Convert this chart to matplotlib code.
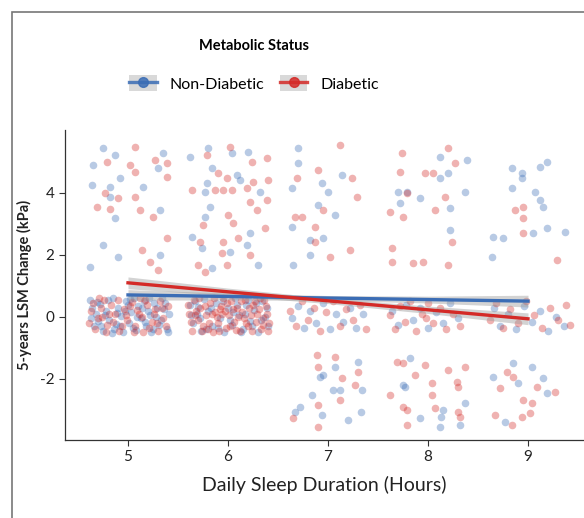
import matplotlib
matplotlib.use('Agg')
import matplotlib.pyplot as plt
from matplotlib.lines import Line2D
from matplotlib.patches import Rectangle
import numpy as np

plt.rcParams['font.family'] = ['Lato', 'DejaVu Sans']

# --- data (jittered sleep hours, 5-year LSM change) ---
nd_x = [4.75, 4.87, 4.65, 4.92, 4.64, 4.82, 4.82, 5.15, 5.35, 5.30, 5.32, 4.87,
        4.75, 4.90, 4.62, 5.32,
        5.62, 5.80, 6.04, 6.20, 5.84, 6.09, 6.12, 6.32, 5.79, 5.82, 5.77, 5.64, 5.74,
        6.22, 6.19, 6.02, 5.84, 6.30, 5.77,
        6.70, 6.70, 7.14, 6.64, 6.94, 7.00, 6.90, 7.07, 6.64, 6.82, 6.95, 6.82, 6.65,
        7.70, 7.72, 8.12, 8.39, 8.12, 8.20, 8.37, 7.79, 7.92, 8.22, 8.22,
        8.84, 8.94, 8.94, 9.12, 9.19, 8.84, 9.07, 9.12, 9.15, 8.65, 8.75, 9.05, 9.19,
        9.37, 8.64,
        7.30, 6.95, 7.07, 6.92, 7.05, 7.12, 7.34, 6.84, 6.72, 6.67, 7.33, 6.94, 7.20,
        7.82, 7.75, 7.77, 8.37, 7.92, 8.13, 8.12, 8.32, 8.15,
        8.85, 9.04, 8.65, 9.15, 8.90, 9.19, 8.77,
        4.62, 4.68, 4.66, 4.72, 4.75, 4.78, 4.81, 4.85, 4.86, 4.90, 4.93, 4.95, 4.98,
        5.01, 5.03, 5.06, 5.08, 5.10, 5.13, 5.16, 5.18, 5.20, 5.23, 5.26, 5.28, 5.31,
        5.34, 5.36, 5.39, 5.41, 4.70, 4.88, 5.00, 5.22, 4.64,
        4.63, 4.69, 4.73, 4.77, 4.80, 4.84, 4.89, 4.92, 4.97, 5.02, 5.05, 5.09, 5.14,
        5.17, 5.21, 5.25, 5.29, 5.33, 5.37, 5.40,
        5.62, 5.65, 5.69, 5.73, 5.76, 5.80, 5.84, 5.88, 5.92, 5.96, 6.00, 6.04, 6.07,
        6.11, 6.15, 6.18, 6.22, 6.26, 6.30, 6.34, 6.37, 6.40, 5.70, 6.05, 6.20,
        5.63, 5.67, 5.72, 5.78, 5.83, 5.90, 5.95, 6.02, 6.09, 6.13, 6.17, 6.24, 6.28,
        6.33, 6.39,
        6.64, 6.70, 6.76, 6.82, 6.88, 6.95, 7.02, 7.08, 7.15, 7.22, 7.28, 7.35,
        7.64, 7.70, 7.78, 7.85, 7.92, 8.00, 8.08, 8.15, 8.22, 8.30,
        8.66, 8.72, 8.80, 8.88, 8.96, 9.04, 9.12, 9.20, 9.28, 9.36]
nd_y = [5.45, 5.23, 4.90, 4.48, 4.26, 4.20, 3.87, 4.20, 5.29, 4.80, 3.45, 3.19,
        2.32, 1.94, 1.61, 2.00,
        5.16, 5.45, 5.29, 5.32, 4.80, 4.58, 4.42, 4.03, 4.32, 3.55, 3.23, 2.58, 2.23,
        2.71, 2.32, 2.10, 1.58, 1.68, 4.03,
        5.45, 4.97, 4.58, 4.16, 4.32, 4.03, 3.61, 3.29, 2.90, 2.48, 2.55, 2.00, 1.68,
        4.03, 3.68, 5.16, 5.06, 4.48, 4.65, 4.03, 4.03, 3.84, 3.52, 2.81,
        4.81, 4.65, 4.48, 4.84, 5.00, 4.16, 4.03, 3.77, 3.55, 2.58, 2.55, 2.71, 2.87,
        2.74, 1.94,
        -1.45, -1.87, -1.61, -1.94, -2.35, -2.35, -2.35, -2.52, -2.90, -3.06, -3.06, -3.16, -3.32,
        -1.32, -2.19, -2.26, -2.77, -3.26, -3.23, -3.55, -3.48, -3.00,
        -1.48, -1.61, -1.94, -1.97, -2.13, -2.45, -3.39,
        0.55, 0.10, -0.30, 0.42, -0.45, 0.20, -0.10, 0.60, -0.38, 0.30, 0.02, -0.50, 0.50,
        -0.20, 0.15, 0.62, -0.42, 0.35, -0.05, 0.52, -0.30, 0.20, -0.48, 0.45, 0.00, -0.25,
        0.60, 0.25, -0.40, 0.10, -0.12, -0.22, 0.40, 0.05, 0.30,
        -0.05, 0.48, -0.28, 0.05, 0.55, -0.52, 0.12, -0.30, 0.20, 0.58, -0.35, 0.00, 0.30,
        -0.15, 0.60, -0.38, 0.30, -0.10, 0.45, -0.50,
        0.40, -0.20, 0.10, -0.45, 0.58, 0.20, -0.30, 0.45, -0.05, -0.50, 0.30, -0.25, 0.60,
        0.05, -0.40, 0.40, -0.12, 0.22, -0.48, 0.50, 0.00, -0.30, 0.32, 0.15, 0.55,
        0.05, 0.50, -0.05, -0.40, 0.30, -0.35, 0.50, -0.10, 0.40, -0.50, 0.10, -0.30, 0.45,
        -0.10, 0.30,
        -0.05, 0.35, -0.35, 0.20, -0.20, 0.45, -0.40, 0.10, -0.15, 0.30, -0.35, 0.10,
        0.20, -0.25, 0.40, -0.10, 0.30, -0.35, 0.15, -0.20, 0.45, -0.05,
        0.30, -0.30, 0.10, -0.40, 0.35, -0.15, 0.20, -0.45, 0.00, -0.30]

d_x = [5.07, 4.79, 5.02, 5.07, 4.77, 4.90, 5.07, 5.27, 5.39, 5.39, 4.69, 4.82, 5.12, 5.25,
       5.14, 5.22, 5.30, 5.39,
       5.79, 6.02, 6.24, 6.39, 5.90, 5.99, 6.25, 6.40, 5.64, 5.87, 5.95, 6.04, 6.19, 6.22,
       6.39, 6.00, 6.29, 5.75, 6.05, 6.37, 5.72, 5.95, 6.10, 5.94, 6.22, 5.70, 5.99, 5.77,
       7.12, 6.90, 7.24, 6.69, 7.29, 6.95, 6.67, 6.74, 6.87, 6.87, 7.22, 7.02,
       7.74, 7.72, 7.79, 7.62, 7.75, 7.64, 7.64, 8.20, 8.27, 7.97, 8.05, 8.17, 8.07, 8.24,
       7.85, 7.95, 8.20,
       8.95, 8.87, 8.95, 8.95, 9.29,
       6.89, 7.07, 6.90, 7.30, 7.14, 7.27, 7.12, 6.90, 6.65, 6.90,
       7.75, 7.97, 8.20, 8.37, 7.87, 8.04, 8.29, 8.30, 8.04, 7.75, 7.79, 8.07, 8.30, 8.32,
       7.79, 7.69, 7.62,
       8.79, 8.85, 8.72, 9.09, 9.27, 8.95, 9.04, 8.67, 8.84, 8.94, 9.02,
       4.63, 4.67, 4.71, 4.74, 4.79, 4.83, 4.87, 4.91, 4.96, 4.99, 5.04, 5.07, 5.11, 5.15,
       5.19, 5.24, 5.27, 5.32, 5.35, 5.40, 4.76, 5.12, 5.30,
       4.61, 4.65, 4.70, 4.73, 4.78, 4.81, 4.85, 4.90, 4.94, 4.98, 5.02, 5.06, 5.09, 5.14,
       5.17, 5.21, 5.26, 5.29, 5.34, 5.38,
       5.61, 5.64, 5.66, 5.70, 5.72, 5.75, 5.78, 5.82, 5.85, 5.87, 5.90, 5.93, 5.95, 5.98,
       6.01, 6.03, 6.06, 6.09, 6.12, 6.14, 6.17, 6.20, 6.23, 6.25, 6.28, 6.31, 6.33, 6.36,
       6.39, 6.41, 5.68, 5.80, 5.97, 6.08, 6.27, 5.89, 6.16, 6.35,
       5.60, 5.63, 5.67, 5.71, 5.74, 5.77, 5.81, 5.84, 5.86, 5.91, 5.94, 5.99, 6.02, 6.05,
       6.10, 6.13, 6.18, 6.21, 6.24, 6.29, 6.32, 6.35, 6.38, 6.40, 5.92,
       6.62, 6.68, 6.74, 6.80, 6.86, 6.92, 6.98, 7.05, 7.12, 7.18, 7.25, 7.32, 7.38,
       7.62, 7.67, 7.72, 7.77, 7.82, 7.88, 7.94, 8.00, 8.05, 8.12, 8.18, 8.25, 8.32, 7.98,
       8.62, 8.68, 8.75, 8.82, 8.90, 8.98, 9.06, 9.14, 9.22, 9.30, 9.38, 9.42]
d_y = [5.48, 5.00, 4.90, 4.68, 4.00, 3.84, 3.87, 5.06, 4.97, 4.50, 3.55, 3.48, 3.45, 3.23,
       2.16, 1.77, 1.52, 2.55,
       5.23, 5.48, 5.00, 5.13, 4.65, 4.48, 4.35, 4.42, 4.10, 4.10, 4.10, 4.10, 4.16, 3.71,
       3.77, 3.29, 3.45, 2.97, 3.03, 2.87, 2.42, 2.42, 2.55, 2.06, 2.00, 1.68, 1.68, 1.45,
       5.55, 4.74, 4.48, 4.48, 3.87, 3.45, 3.23, 3.23, 2.90, 2.42, 2.16, 1.94,
       5.29, 4.68, 4.00, 3.39, 3.23, 2.23, 1.77, 5.45, 4.97, 4.65, 4.65, 3.87, 3.45, 2.42,
       1.74, 1.77, 1.68,
       3.55, 3.45, 3.19, 2.71, 1.84,
       -1.23, -1.29, -1.61, -1.77, -1.97, -2.19, -2.68, -2.84, -3.26, -3.55,
       -1.48, -1.55, -1.71, -1.61, -1.87, -2.13, -2.10, -2.26, -2.52, -2.90, -3.00, -2.94, -3.06, -3.23,
       -3.48, -1.45, -2.52,
       -1.77, -1.94, -2.29, -2.26, -2.42, -2.68, -2.77, -3.16, -3.48, -3.23, -3.10,
       0.20, -0.40, 0.60, 0.00, -0.25, 0.40, 0.10, -0.45, 0.25, -0.10, 0.48, -0.30, 0.10, -0.50,
       0.40, -0.15, 0.25, 0.50, -0.05, 0.35, 0.55, 0.60, -0.45,
       -0.20, 0.45, -0.05, 0.30, -0.48, 0.10, -0.15, 0.55, -0.28, 0.05, 0.35, -0.50, 0.22, 0.00,
       0.55, -0.35, 0.10, -0.20, 0.30, -0.30,
       0.10, -0.45, 0.55, -0.10, 0.30, -0.30, 0.05, 0.45, -0.50, 0.15, -0.20, 0.35, 0.60, -0.35,
       0.05, 0.50, -0.15, 0.30, -0.45, 0.15, 0.55, -0.30, 0.05, 0.40, -0.15, 0.25, -0.40, 0.55,
       0.10, -0.20, 0.20, -0.40, 0.20, -0.42, 0.50, 0.00, -0.05, -0.25,
       0.40, -0.15, 0.05, 0.60, -0.45, 0.35, -0.20, 0.10, 0.60, -0.45, 0.10, 0.45, -0.30, 0.25,
       0.00, 0.50, -0.20, 0.30, -0.45, 0.10, 0.60, -0.05, 0.35, -0.45, 0.25,
       0.20, -0.30, 0.50, -0.10, 0.30, -0.45, 0.15, 0.50, -0.30, 0.25, -0.10, 0.40, -0.40,
       0.05, -0.40, 0.35, -0.15, 0.50, -0.45, 0.10, 0.45, -0.20, 0.30, -0.40, 0.10, -0.30, -0.05,
       -0.10, 0.45, -0.35, 0.25, -0.20, 0.50, 0.05, -0.35, 0.30, -0.10, 0.40, -0.25]

# linear fit at sleep hours 5..9 with CI half widths
fit_x = [5, 6, 7, 8, 9]
nd_fit = [0.71, 0.66, 0.61, 0.56, 0.51]
nd_ci = [0.17, 0.11, 0.08, 0.11, 0.19]
d_fit = [1.10, 0.81, 0.52, 0.23, -0.06]
d_ci = [0.19, 0.12, 0.09, 0.12, 0.19]

xticks = [5, 6, 7, 8, 9]
yticks = [-2, 0, 2, 4]

blue = '#3b6db5'
red = '#d42a27'

fig = plt.figure(figsize=(5.84, 5.18), dpi=100)
ax = fig.add_axes([65/584, 78/518, 1 - 65/584, 310/518])

ax.scatter(nd_x, nd_y, s=30, color=blue, alpha=0.36, linewidths=0, zorder=2)
ax.scatter(d_x, d_y, s=30, color=red, alpha=0.36, linewidths=0, zorder=2)

for fy, ci, c in [(nd_fit, nd_ci, blue), (d_fit, d_ci, red)]:
    fy = np.array(fy)
    ci = np.array(ci)
    ax.fill_between(fit_x, fy - ci, fy + ci, color='#9e9e9e', alpha=0.45, lw=0, zorder=3)
    ax.plot(fit_x, fy, color=c, lw=2.4, zorder=4)

ax.set_xlim(4.37, 9.56)
ax.set_ylim(-3.97, 6.03)
ax.set_xticks(xticks)
ax.set_yticks(yticks)
ax.set_yticklabels([str(v) for v in yticks])
ax.tick_params(length=4, width=0.8, colors='#333333', labelsize=11, labelcolor='#222222')
for s in ['top', 'right']:
    ax.spines[s].set_visible(False)
for s in ['left', 'bottom']:
    ax.spines[s].set_color('#333333')
    ax.spines[s].set_linewidth(0.9)

ax.set_xlabel('Daily Sleep Duration (Hours)', fontsize=14, color='#222222', labelpad=8)
ax.set_ylabel('5-years LSM Change (kPa)', fontsize=10.5, fontweight='bold', color='#222222', labelpad=6)

# legend with grey key background
handles = []
for c in [blue, red]:
    bg = Rectangle((0, 0), 1, 1, facecolor='#d9d9d9', edgecolor='none')
    ln = Line2D([], [], color=c, lw=2.4, marker='o', markersize=7,
                markerfacecolor=c, markeredgecolor=c, alpha=0.85)
    handles.append((bg, ln))
leg = fig.legend(handles, ['Non-Diabetic', 'Diabetic'], loc='upper center',
                 bbox_to_anchor=(0.435, 0.952), ncol=2, frameon=False,
                 title='Metabolic Status', fontsize=11.5, handlelength=1.7,
                 handleheight=1.1, columnspacing=1.0, handletextpad=0.8)
leg.get_title().set_fontweight('bold')
leg.get_title().set_fontsize(10.5)
leg._legend_box.sep = 16

# outer frame (cropped on right and bottom)
fig.add_artist(Rectangle((12/584, -0.1), 1.2, 1 - 12/518 + 0.1, transform=fig.transFigure,
                         facecolor='none', edgecolor='#777777', lw=1.2, clip_on=False))

fig.savefig('out.png', dpi=100)
